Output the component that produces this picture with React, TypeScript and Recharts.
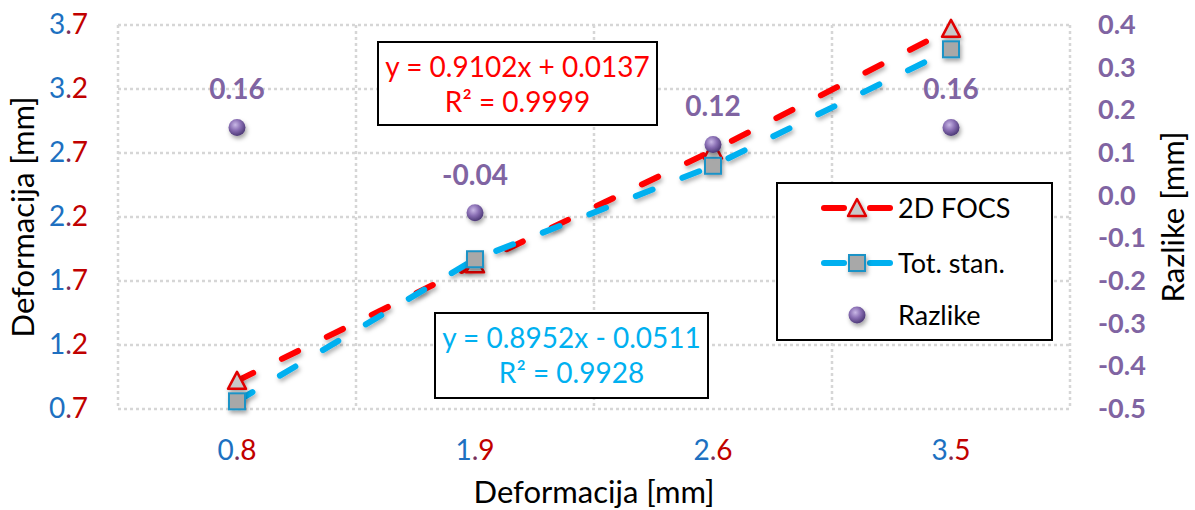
import React from 'react';
import { ComposedChart, Line, XAxis, YAxis, CartesianGrid, LabelList } from 'recharts';

// category labels on the x axis
const categories = ['0.8', '1.9', '2.6', '3.5'];
// measured values (mm)
const focsValues = [0.92, 1.83, 2.72, 3.67];
const totStanValues = [0.76, 1.87, 2.6, 3.51];
const razlikeValues = [0.16, -0.04, 0.12, 0.16];

const leftTicks = [0.7, 1.2, 1.7, 2.2, 2.7, 3.2, 3.7];
const rightTicks = [-0.5, -0.4, -0.3, -0.2, -0.1, 0, 0.1, 0.2, 0.3, 0.4];

const seriesNames = ['2D FOCS', 'Tot. stan.', 'Razlike'];
const focsTrendText = ['y = 0.9102x + 0.0137', 'R² = 0.9999'];
const totTrendText = ['y = 0.8952x - 0.0511', 'R² = 0.9928'];

const data = categories.map((c, i) => ({
    x: c,
    focs: focsValues[i],
    tot: totStanValues[i],
    razlike: razlikeValues[i],
}));

const FONT = "Lato, 'Open Sans', sans-serif";
const RED = '#ff0000';
const BLUE = '#00b0f0';
const PURPLE = '#8064a2';

const Triangle = ({ cx, cy }: { cx: number; cy: number }) => (
    <path
        d={`M${cx},${cy - 9} L${cx + 9},${cy + 8} L${cx - 9},${cy + 8} Z`}
        fill="#c8c8c8"
        stroke="#e00000"
        strokeWidth={2.5}
        strokeLinejoin="round"
        filter="url(#mkShadow)"
    />
);

const Square = ({ cx, cy }: { cx: number; cy: number }) => (
    <rect x={cx - 8} y={cy - 8} width={16} height={16} fill="#a8a8a8" stroke="#1f93c6" strokeWidth={2} filter="url(#mkShadow)" />
);

const Sphere = ({ cx, cy }: { cx: number; cy: number }) => (
    <circle cx={cx} cy={cy} r={8.5} fill="url(#sphereGrad)" filter="url(#mkShadow)" />
);

const renderTriangle = (p: any) => <Triangle key={`t-${p.index}`} cx={p.cx} cy={p.cy} />;
const renderSquare = (p: any) => <Square key={`s-${p.index}`} cx={p.cx} cy={p.cy} />;
const renderSphere = (p: any) => <Sphere key={`c-${p.index}`} cx={p.cx} cy={p.cy} />;

const leftTick = (p: any) => (
    <text x={p.x} y={p.y + 9} textAnchor="end" fontFamily={FONT} fontSize={28} fill="url(#tickGrad)">
        {Number(p.payload.value).toFixed(1)}
    </text>
);

const rightTick = (p: any) => (
    <text x={p.x} y={p.y + 9} textAnchor="start" fontFamily={FONT} fontSize={27} fontWeight="bold" fill={PURPLE}>
        {Number(p.payload.value).toFixed(1)}
    </text>
);

const xTick = (p: any) => (
    <text x={p.x} y={p.y} textAnchor="middle" fontFamily={FONT} fontSize={28} fill="url(#tickGrad)">
        {p.payload.value}
    </text>
);

const razlikeLabel = (p: any) => (
    <text x={p.x} y={p.y - 28} textAnchor="middle" fontFamily={FONT} fontSize={28} fontWeight="bold" fill={PURPLE}>
        {Number(p.value).toFixed(2)}
    </text>
);

// legend drawn by hand: box at the right of the plot
const LegendBox = ({ x, y }: { x: number; y: number }) => {
    const rows = [26, 81, 133];
    const colors = [RED, BLUE, null];
    const markers = [Triangle, Square, Sphere];
    return (
        <g transform={`translate(${x},${y})`}>
            <rect x={1} y={1} width={275} height={157} fill="#fff" stroke="#000" strokeWidth={2} />
            {seriesNames.map((name, i) => {
                const Marker = markers[i];
                const c = colors[i];
                return (
                    <g key={name}>
                        {c && <line x1={48} y1={rows[i]} x2={68} y2={rows[i]} stroke={c} strokeWidth={6} strokeLinecap="round" />}
                        {c && <line x1={94} y1={rows[i]} x2={114} y2={rows[i]} stroke={c} strokeWidth={6} strokeLinecap="round" />}
                        <Marker cx={81} cy={rows[i]} />
                        <text x={122} y={rows[i] + 10} fontFamily={FONT} fontSize={27} fill="#000">
                            {name}
                        </text>
                    </g>
                );
            })}
        </g>
    );
};

const EquationBox = ({ x, y, w, h, lines, color }: { x: number; y: number; w: number; h: number; lines: string[]; color: string }) => (
    <g>
        <rect x={x} y={y} width={w} height={h} fill="#fff" stroke="#000" strokeWidth={2} />
        <text x={x + w / 2} y={y + 35} textAnchor="middle" fontFamily={FONT} fontSize={28} fill={color}>
            {lines[0]}
        </text>
        <text x={x + w / 2} y={y + 70} textAnchor="middle" fontFamily={FONT} fontSize={28} fill={color}>
            {lines[1]}
        </text>
    </g>
);

export default function App() {
    return (
        <div style={{ position: 'absolute', left: 0, top: 0, width: 1195, height: 510, background: '#fff' }}>
            <svg width={0} height={0} style={{ position: 'absolute' }}>
                <defs>
                    <linearGradient id="tickGrad" x1="0" y1="0" x2="1" y2="0">
                        <stop offset="0.38" stopColor="#1f6fc0" />
                        <stop offset="0.6" stopColor="#c00000" />
                    </linearGradient>
                    <radialGradient id="sphereGrad" cx="0.4" cy="0.35" r="0.65">
                        <stop offset="0" stopColor="#c9b8e6" />
                        <stop offset="0.5" stopColor="#8a6fb4" />
                        <stop offset="1" stopColor="#4e3a78" />
                    </radialGradient>
                    <filter id="mkShadow" x="-50%" y="-50%" width="200%" height="200%">
                        <feDropShadow dx="1.5" dy="3" stdDeviation="2" floodColor="#000" floodOpacity="0.35" />
                    </filter>
                    <filter id="lnShadow" x="-10%" y="-10%" width="120%" height="120%">
                        <feDropShadow dx="1.5" dy="3" stdDeviation="2" floodColor="#000" floodOpacity="0.3" />
                    </filter>
                </defs>
            </svg>
            <ComposedChart width={1195} height={510} data={data} margin={{ top: 25, right: 0, bottom: 0, left: 0 }}>
                <CartesianGrid
                    yAxisId="left"
                    stroke="#d6d6d6"
                    strokeWidth={2.5}
                    strokeDasharray="3 3"
                    verticalCoordinatesGenerator={({ offset }: any) =>
                        categories.map((_, i) => offset.left + (i * offset.width) / categories.length).concat(offset.left + offset.width)
                    }
                />
                <XAxis
                    dataKey="x"
                    scale="band"
                    height={101}
                    axisLine={false}
                    tickLine={false}
                    tickSize={0}
                    tickMargin={51}
                    tick={xTick}
                    label={{
                        content: ({ viewBox }: any) => (
                            <text x={viewBox.x + viewBox.width / 2} y={viewBox.y + 94} textAnchor="middle" fontFamily={FONT} fontSize={31} fill="#000">
                                Deformacija [mm]
                            </text>
                        ),
                    }}
                />
                <YAxis
                    yAxisId="left"
                    orientation="left"
                    width={118}
                    domain={[0.7, 3.7]}
                    ticks={leftTicks}
                    interval={0}
                    axisLine={false}
                    tickLine={false}
                    tickSize={0}
                    tickMargin={30}
                    tick={leftTick}
                    label={{
                        content: ({ viewBox }: any) => (
                            <text
                                transform={`translate(${viewBox.x + 34},${viewBox.y + viewBox.height / 2}) rotate(-90)`}
                                textAnchor="middle"
                                fontFamily={FONT}
                                fontSize={31}
                                fill="#000"
                            >
                                Deformacija [mm]
                            </text>
                        ),
                    }}
                />
                <YAxis
                    yAxisId="right"
                    orientation="right"
                    width={125}
                    domain={[-0.5, 0.4]}
                    ticks={rightTicks}
                    interval={0}
                    axisLine={false}
                    tickLine={false}
                    tickSize={0}
                    tickMargin={28}
                    tick={rightTick}
                    label={{
                        content: ({ viewBox }: any) => (
                            <text
                                transform={`translate(${viewBox.x + 114},${viewBox.y + viewBox.height / 2}) rotate(-90)`}
                                textAnchor="middle"
                                fontFamily={FONT}
                                fontSize={31}
                                fill="#000"
                            >
                                Razlike [mm]
                            </text>
                        ),
                    }}
                />
                <Line
                    yAxisId="left"
                    dataKey="focs"
                    name={seriesNames[0]}
                    stroke={RED}
                    strokeWidth={6}
                    strokeDasharray="18 32"
                    strokeLinecap="round"
                    filter="url(#lnShadow)"
                    dot={renderTriangle}
                    activeDot={false}
                    isAnimationActive={false}
                />
                <Line
                    yAxisId="left"
                    dataKey="tot"
                    name={seriesNames[1]}
                    stroke={BLUE}
                    strokeWidth={6}
                    strokeDasharray="18 32"
                    strokeLinecap="round"
                    filter="url(#lnShadow)"
                    dot={renderSquare}
                    activeDot={false}
                    isAnimationActive={false}
                />
                <Line
                    yAxisId="right"
                    dataKey="razlike"
                    name={seriesNames[2]}
                    stroke="none"
                    dot={renderSphere}
                    activeDot={false}
                    isAnimationActive={false}
                >
                    <LabelList dataKey="razlike" content={razlikeLabel} />
                </Line>
            </ComposedChart>
            <svg width={1195} height={510} style={{ position: 'absolute', left: 0, top: 0, pointerEvents: 'none' }}>
                <EquationBox x={378} y={42} w={279} h={83} lines={focsTrendText} color={RED} />
                <EquationBox x={435} y={313} w={273} h={85} lines={totTrendText} color={BLUE} />
                <LegendBox x={776} y={182} />
            </svg>
        </div>
    );
}
